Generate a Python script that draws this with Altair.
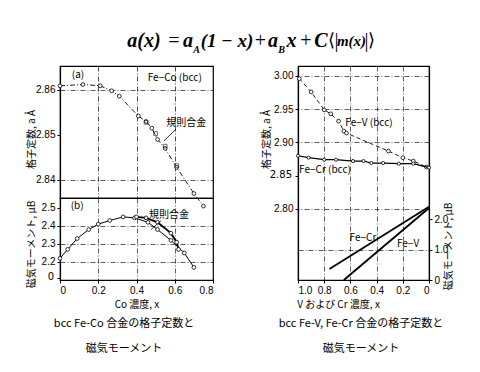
import altair as alt
import pandas as pd

# ---------------- data ----------------
# (a) bcc Fe-Co: lattice constant (Å), disordered alloy
co_lat = [0.0, 0.12, 0.21, 0.27, 0.31, 0.41, 0.45, 0.48, 0.51, 0.55, 0.61, 0.70, 0.75]
a_lat = [2.8609, 2.8612, 2.8609, 2.8598, 2.8586, 2.8542, 2.8530, 2.8515, 2.8490, 2.8470, 2.8428, 2.8370, 2.8342]
# ordered alloy (規則合金) lattice points
co_lat_ord = [0.45, 0.50, 0.55, 0.61]
a_lat_ord = [2.8528, 2.8503, 2.8475, 2.8432]
# (b) magnetic moment (μB), disordered alloy
co_mom = [0.0, 0.04, 0.09, 0.15, 0.20, 0.26, 0.33, 0.39, 0.46, 0.51, 0.58, 0.65, 0.70]
mu_mom = [2.22, 2.27, 2.33, 2.38, 2.41, 2.43, 2.45, 2.445, 2.42, 2.38, 2.32, 2.25, 2.17]
# ordered alloy moment
co_mom_ord = [0.40, 0.45, 0.51, 0.58, 0.61, 0.62]
mu_mom_ord = [2.45, 2.445, 2.42, 2.36, 2.31, 2.27]

# bcc Fe-V / Fe-Cr lattice constants (Å)
x_v_lat = [0.99, 0.90, 0.80, 0.75, 0.69, 0.65, 0.63, 0.31, 0.20, 0.12, 0.02]
a_v_lat = [2.996, 2.976, 2.949, 2.943, 2.932, 2.917, 2.914, 2.887, 2.877, 2.872, 2.863]
x_cr_lat = [1.0, 0.92, 0.80, 0.71, 0.58, 0.50, 0.44, 0.35, 0.23, 0.12, 0.0]
a_cr_lat = [2.880, 2.877, 2.874, 2.874, 2.872, 2.872, 2.869, 2.869, 2.868, 2.868, 2.862]
# magnetic moments (μB)
x_cr_mom = [0.0, 0.76]
mu_cr_mom = [2.40, 0.36]
x_v_mom = [0.0, 0.65]
mu_v_mom = [2.36, 0.0]

# annotation labels (data coordinates)
ann_tl_x = [0.094, 0.60, 0.66]
ann_tl_y = [2.8633, 2.8627, 2.8527]
ann_tl_t = ["(a)", "Fe−Co (bcc)", "規則合金"]
ann_bl_x = [0.09, 0.57]
ann_bl_y = [2.511, 2.462]
ann_bl_t = ["(b)", "規則合金"]
ann_rl_x = [0.458, 0.794]
ann_rl_y = [2.929, 2.859]
ann_rl_t = ["Fe−V (bcc)", "Fe−Cr (bcc)"]
ann_rm_x = [0.504, 0.16]
ann_rm_y = [1.38, 1.18]
ann_rm_t = ["Fe−Cr", "Fe−V"]
# leader lines to the 規則合金 labels
lead_tl = dict(x=[0.607], y=[2.8513], x2=[0.544], y2=[2.8487])
lead_bl = dict(x=[0.528], y=[2.429], x2=[0.476], y2=[2.38])

caption_left = ["bcc Fe-Co 合金の格子定数と", "磁気モーメント"]
caption_right = ["bcc Fe-V, Fe-Cr 合金の格子定数と", "磁気モーメント"]

# axis tick values
tick_lat_left = [2.84, 2.85, 2.86]
tick_mom_left = [2.11, 2.2, 2.3, 2.4, 2.5]
tick_co = [0, 0.2, 0.4, 0.6, 0.8]
tick_lat_right = [2.8, 2.85, 2.9, 2.95, 3.0]
tick_mom_right = [0, 1, 2]
tick_x_right = [0, 0.2, 0.4, 0.6, 0.8, 1.0]

# formula pieces: text, centre x (page px), centre y (page px), size, italic/bold
formula = [("a(x)", 143, 40, 20, True), ("=", 173, 40, 20, False), ("a", 187, 40, 20, True),
           ("A", 195.5, 49, 10, True), ("(1 − x)", 226, 40, 19, True), ("+", 259.5, 40, 20, False),
           ("a", 272, 40, 20, True), ("B", 280.5, 49, 10, True), ("x", 290.5, 40, 20, True),
           ("+", 305, 40, 20, False), ("C", 320, 40, 20, True), ("⟨", 330, 40, 18, False),
           ("|", 335.5, 40, 20, False), ("m(x)", 350.5, 40, 15, True), ("|", 365.5, 40, 20, False),
           ("⟩", 370.5, 40, 18, False)]

SANS = "Liberation Sans"
JP = "Noto Sans CJK JP"
SERIF = "Liberation Serif"
ONE = pd.DataFrame({"d": [0]})

def gop(test):
    return {"condition": {"test": test, "value": 0.9}, "value": 0}

COMMON = dict(labelOverlap=False, labelBound=False, labelSeparation=0, grid=True)

# ---------------- scales & axes ----------------
xs_left = alt.Scale(domain=[0, 0.8], nice=False, zero=False)
ys_lat_left = alt.Scale(domain=[2.836, 2.8653], nice=False, zero=False)
ys_mom_left = alt.Scale(domain=[2.1, 2.555], nice=False, zero=False)
xs_right = alt.Scale(domain=[0, 1.0], nice=False, zero=False, reverse=True)
ys_lat_right = alt.Scale(domain=[2.693, 3.015], nice=False, zero=False)
ys_mom_right = alt.Scale(domain=[0, 7.02], nice=False, zero=False)

ax_x_top = alt.Axis(values=[0.2, 0.4, 0.6], labels=False, ticks=False, domain=False,
                    title=None, grid=True)
ax_y_lat_left = alt.Axis(values=tick_lat_left, tickCount=20, format=".2f",
                         title="格子定数, a Å", titleX=-29, titleY=73, titleBaseline="middle",
                         gridOpacity=gop("abs(datum.value - 2.85) > 0.001"), **COMMON)
ax_x_bottom = alt.Axis(values=tick_co, tickCount=20,
                       labelExpr="datum.value == 0 ? '0' : format(datum.value, '.1f')",
                       title="Co 濃度, x", titleY=24, titleBaseline="middle",
                       gridOpacity=gop("datum.value > 0.1 && datum.value < 0.7"), **COMMON)
ax_y_mom_left = alt.Axis(values=tick_mom_left, tickCount=20,
                         labelExpr="datum.value < 2.15 ? '' : format(datum.value, '.1f')",
                         title="磁気モーメント, μB", titleX=-29, titleY=46,
                         titleBaseline="middle",
                         gridOpacity=gop("datum.value > 2.15 && datum.value < 2.45"), **COMMON)
ax_x_right = alt.Axis(values=tick_x_right, tickCount=20,
                      labelExpr="datum.value == 0 ? '0' : format(datum.value, '.1f')",
                      title="V および Cr 濃度, x", titleX=40, titleY=24,
                      titleBaseline="middle",
                      gridOpacity=gop("datum.value > 0.1 && datum.value < 0.9"), **COMMON)
ax_y_lat_right = alt.Axis(orient="left", values=tick_lat_right, tickCount=20,
                          labelExpr="abs(datum.value - 2.85) < 0.001 ? '' : format(datum.value, '.2f')",
                          title="格子定数, a Å", titleX=-32, titleY=73,
                          titleBaseline="middle",
                          gridOpacity=gop("abs(datum.value - 2.85) > 0.001"), **COMMON)
ax_y_mom_right = alt.Axis(orient="right", values=tick_mom_right, tickCount=20,
                          labelExpr="datum.value == 0 ? '0' : format(datum.value, '.1f')",
                          title="磁気モーメント, μB", titleAngle=270, titleX=19, titleY=180,
                          titleBaseline="middle",
                          gridOpacity=gop("datum.value > 0.5 && datum.value < 1.5"), **COMMON)


def enc(xs, xax, ys, yax):
    return dict(x=alt.X("x:Q", scale=xs, axis=xax), y=alt.Y("y:Q", scale=ys, axis=yax))


def series(xv, yv, e, width=1.0, dash=None, size=14, points=True):
    df = pd.DataFrame({"x": xv, "y": yv})
    kw = dict(color="black", strokeWidth=width)
    if dash:
        kw["strokeDash"] = dash
    layers = [alt.Chart(df).mark_line(**kw).encode(**e)]
    if points:
        layers.append(alt.Chart(df).mark_point(shape="circle", filled=True, fill="white",
                                               stroke="black", strokeWidth=0.8, opacity=1,
                                               size=size).encode(**e))
    return layers


def labels(xv, yv, tv, e, size=10):
    df = pd.DataFrame({"x": xv, "y": yv, "t": tv})
    return alt.Chart(df).mark_text(font=JP, fontSize=size, color="black").encode(text="t:N", **e)


def leader(d, e):
    df = pd.DataFrame(d)
    return alt.Chart(df).mark_rule(color="black", strokeWidth=0.8).encode(
        x2="x2:Q", y2="y2:Q", **e)


def pix_text(t, px, py, size, font=JP, **kw):
    return alt.Chart(ONE).mark_text(text=t, font=font, fontSize=size, color="black", **kw).encode(
        x=alt.value(px), y=alt.value(py))

# ---------------- left top: lattice constant ----------------
e_tl = enc(xs_left, ax_x_top, ys_lat_left, ax_y_lat_left)
tl_layers = series(co_lat, a_lat, e_tl, width=0.9, dash=[5, 2, 1, 2])
df_ord = pd.DataFrame({"x": co_lat_ord, "y": a_lat_ord})
tl_layers.append(alt.Chart(df_ord).mark_point(shape="square", filled=False, stroke="black",
                                              strokeWidth=0.8, size=14).encode(**e_tl))
tl_layers.append(leader(lead_tl, e_tl))
tl_layers.append(labels(ann_tl_x, ann_tl_y, ann_tl_t, e_tl))
OX, OY = 59, 65
for t, cx, cy, sz, ital in formula:
    style = dict(fontStyle="italic", fontWeight="bold") if ital else dict(fontWeight="normal")
    tl_layers.append(pix_text(t, cx - OX, cy - OY, sz, font=SERIF, **style))
tl_layers.append(alt.Chart(ONE).mark_rule(opacity=0).encode(
    x=alt.value(-51), x2=alt.value(-50), y=alt.value(-57)))
top_left = alt.layer(*tl_layers).properties(width=153, height=132)

# ---------------- left bottom: magnetic moment ----------------
e_bl = enc(xs_left, ax_x_bottom, ys_mom_left, ax_y_mom_left)
bl_layers = series(co_mom, mu_mom, e_bl, width=1.0)
bl_layers += series(co_mom_ord, mu_mom_ord, e_bl, width=1.8)
bl_layers.append(leader(lead_bl, e_bl))
bl_layers.append(labels(ann_bl_x, ann_bl_y, ann_bl_t, e_bl))
bl_layers.append(pix_text(caption_left[0], 123 - 59, 323 - 197, 11))
bl_layers.append(pix_text(caption_left[1], 123 - 59, 348 - 197, 11))
# bottom tick label of the broken moment axis, as plain text
bl_layers.append(pix_text("0", -6, 79, 10, font="DejaVu Sans", align="right", baseline="middle"))
bottom_left = alt.layer(*bl_layers).properties(width=153, height=82)

# ---------------- right: Fe-V, Fe-Cr ----------------
e_rl = enc(xs_right, ax_x_right, ys_lat_right, ax_y_lat_right)
e_rm = enc(xs_right, ax_x_right, ys_mom_right, ax_y_mom_right)
rl_layers = series(x_v_lat, a_v_lat, e_rl, width=0.9, dash=[4, 3])
rl_layers += series(x_cr_lat, a_cr_lat, e_rl, width=1.2, size=10)
rl_layers.append(labels(ann_rl_x, ann_rl_y, ann_rl_t, e_rl))
rl_layers.append(pix_text(caption_right[0], 360 - 297, 323 - 65, 11))
rl_layers.append(pix_text(caption_right[1], 360 - 297, 348 - 65, 11))
rl_layers.append(pix_text("2.85", -6, 109, 10, font="DejaVu Sans", align="right",
                          baseline="middle"))
rm_layers = series(x_cr_mom, mu_cr_mom, e_rm, width=1.8, points=False)
rm_layers += series(x_v_mom, mu_v_mom, e_rm, width=1.8, points=False)
rm_layers.append(labels(ann_rm_x, ann_rm_y, ann_rm_t, e_rm))
right = alt.layer(alt.layer(*rl_layers), alt.layer(*rm_layers)).resolve_scale(
    y="independent").properties(width=131, height=214)

left = alt.vconcat(top_left, bottom_left, spacing=0, bounds="flush")
# the nested column counts as zero width under flush bounds, so the spacing
# is the distance between the two plot origins
chart = alt.hconcat(left, right, spacing=238, bounds="flush").properties(
    padding=0, background="white"
).configure_view(stroke="black", strokeWidth=1.2).configure_axis(
    domainColor="black", domainWidth=1.2, tickColor="black", tickSize=3,
    labelFont=SANS, labelFontSize=10, labelColor="black", labelPadding=2,
    titleFont=JP, titleFontSize=10, titleFontWeight="normal", titleColor="black",
    gridColor="black", gridDash=[5, 2, 1, 2], gridWidth=0.7
)

chart.save("out.html", embed_options={"renderer": "svg", "actions": False})
